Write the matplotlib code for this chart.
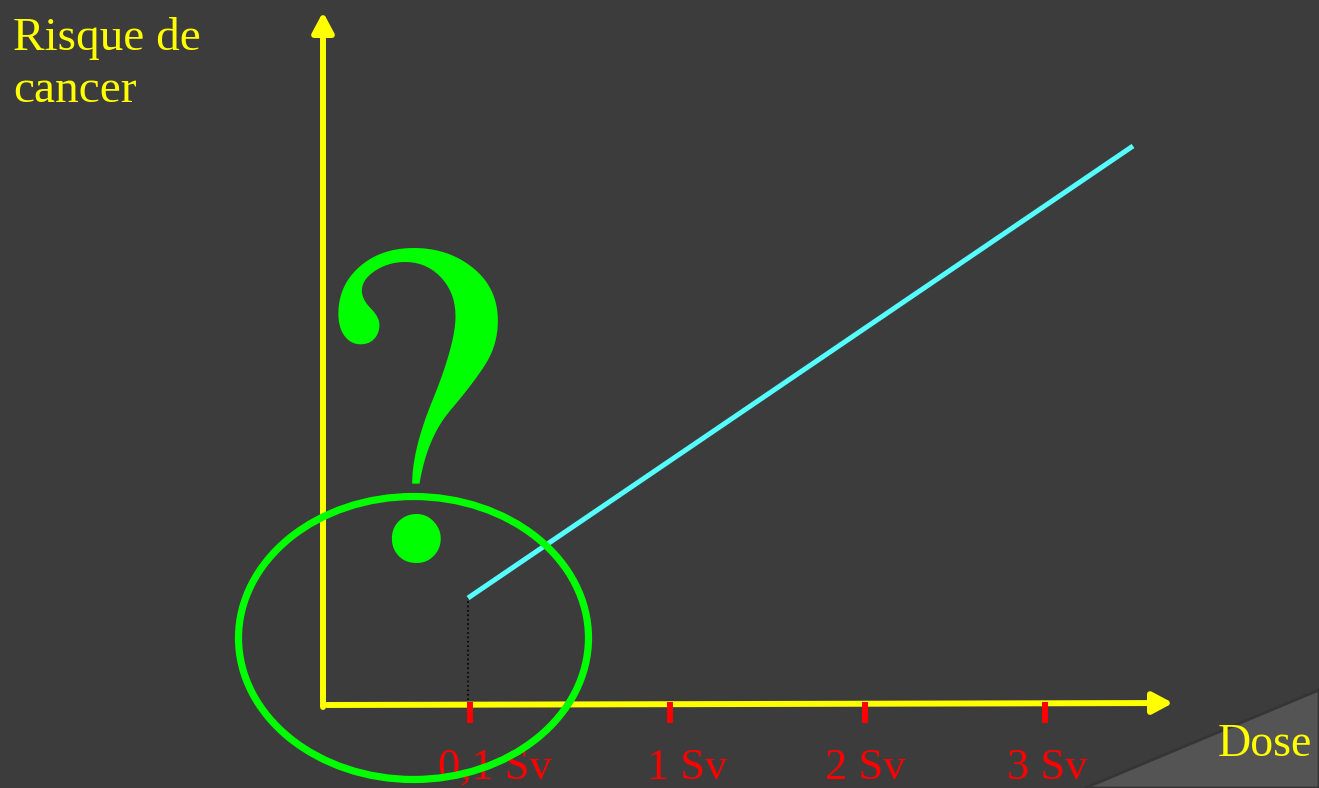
import matplotlib.pyplot as plt
from matplotlib.patches import Ellipse, Polygon

# Couleurs de la diapositive
C_BG = '#3c3c3c'
C_YELLOW = '#ffff00'
C_RED = '#ff0000'
C_CYAN = '#55ffff'
C_GREEN = '#00ff00'

# Données (positions le long de l'axe, 1 unité = 100 px)
tick_pos = [1.47, 3.47, 5.42, 7.22]
tick_labels = ['0,1 Sv', '1 Sv', '2 Sv', '3 Sv']
label_pos = [1.72, 3.64, 5.42, 7.24]

# relation linéaire dose -> risque (segment tracé)
dose_line = [1.45, 8.10]
risk_line = [1.07, 5.59]

plt.rcParams['font.family'] = ['Liberation Serif', 'DejaVu Serif']

fig = plt.figure(figsize=(13.19, 7.88), dpi=100, facecolor=C_BG)
ax = fig.add_axes([0, 0, 1, 1])
ax.set_facecolor(C_BG)
ax.set_xlim(-3.23, 9.96)
ax.set_ylim(-0.83, 7.05)
ax.axis('off')

# coin inférieur droit plus clair (décor de la diapo)
fig.patches.append(Polygon([[1085 / 1319, 0], [1, 98 / 788], [1, 0]], closed=True,
                           transform=fig.transFigure, facecolor='#545454',
                           edgecolor='#353535', lw=2, zorder=0))

# axes jaunes avec flèches
arrow = '-|>,head_length=0.6,head_width=0.32'
ax.annotate('', xy=(0, 6.93), xytext=(0, -0.02),
            arrowprops=dict(arrowstyle=arrow, color=C_YELLOW, lw=4.3,
                            mutation_scale=20, shrinkA=0, shrinkB=0))
ax.annotate('', xy=(8.5, 0.02), xytext=(0.04, 0),
            arrowprops=dict(arrowstyle=arrow, color=C_YELLOW, lw=4.3,
                            mutation_scale=20, shrinkA=0, shrinkB=0))

# graduations rouges
ax.vlines(tick_pos, -0.18, 0.03, colors=C_RED, lw=4.3, zorder=3)
for x, lab in zip(label_pos, tick_labels):
    ax.text(x, -0.63, lab, color=C_RED, fontsize=32, ha='center', va='center')

# droite dose-réponse
ax.plot(dose_line, risk_line, color=C_CYAN, lw=3.6, solid_capstyle='butt', zorder=3)
ax.plot([dose_line[0], dose_line[0]], [0.05, risk_line[0]], color='black',
        lw=1.2, linestyle=':', zorder=2)

# point d'interrogation et ellipse
ax.text(0.86, 1.46, '?', color=C_GREEN, fontsize=332, family='STIXGeneral',
        ha='center', va='baseline', zorder=4)
ax.add_patch(Ellipse((0.905, 0.67), 3.50, 2.83, fill=False, edgecolor=C_GREEN,
                     lw=5.2, zorder=5))

# titres des axes
fig.text(13 / 1319, 1 - 17 / 788, 'Risque de\ncancer', color=C_YELLOW, fontsize=34,
         ha='left', va='top', linespacing=1.28)
fig.text(1218 / 1319, 1 - 745 / 788, 'Dose', color=C_YELLOW, fontsize=33,
         ha='left', va='center')

fig.savefig('out.png', dpi=100, facecolor=C_BG)
